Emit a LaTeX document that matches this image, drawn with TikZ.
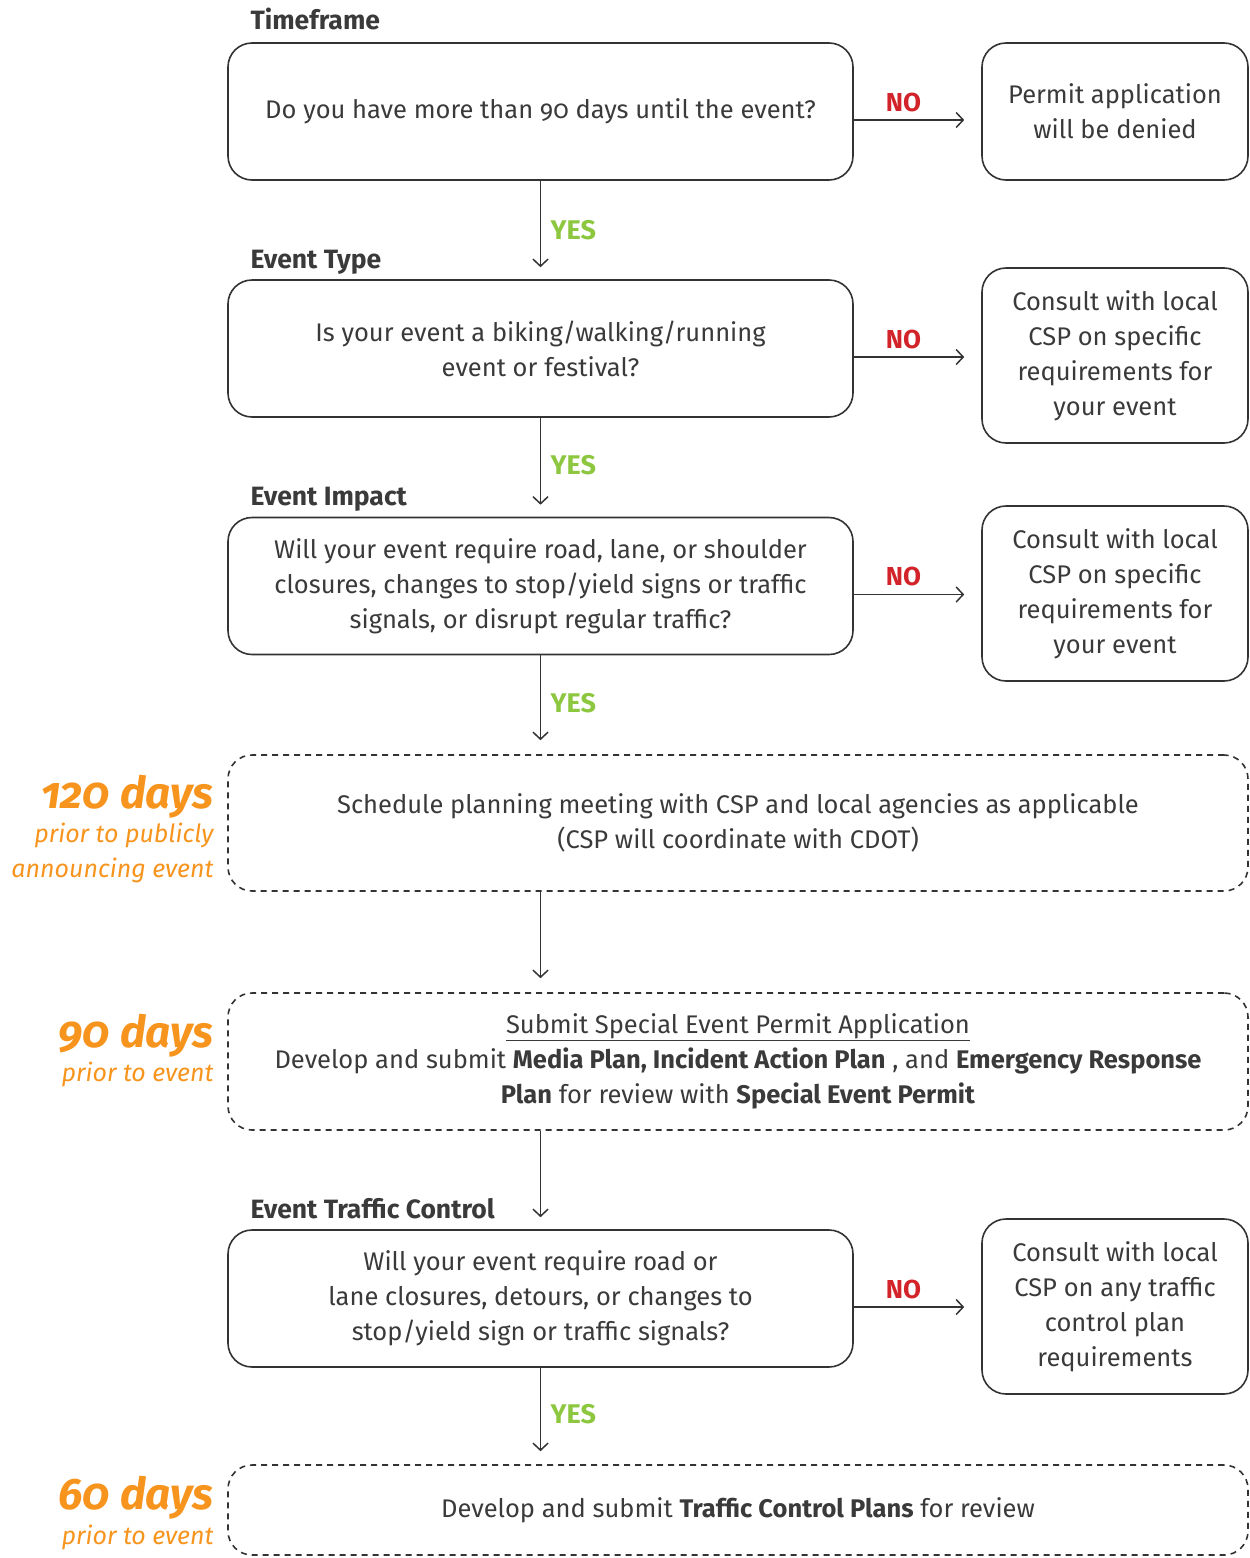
\documentclass[tikz,border=0pt]{standalone}
\usepackage{fontspec}
\setmainfont{Fira Sans}[Numbers=OldStyle]
\usetikzlibrary{arrows.meta,calc}
\definecolor{txt}{HTML}{3A3A3A}
\definecolor{ln}{HTML}{333333}
\definecolor{nored}{HTML}{D2232A}
\definecolor{yesgreen}{HTML}{8DC63F}
\definecolor{orng}{HTML}{F7941D}
\begin{document}
\begin{tikzpicture}[x=1pt,y=-1pt,
  every node/.style={text=txt,font=\fontsize{25.5}{35}\selectfont},
  mainbox/.style={draw=ln,line width=1.6pt,rounded corners=24pt,minimum width=625pt,minimum height=137pt,align=center,inner sep=0pt},
  sidebox/.style={draw=ln,line width=1.6pt,rounded corners=24pt,minimum width=266pt,align=center,inner sep=0pt},
  dashbox/.style={draw=ln,line width=1.6pt,dash pattern=on 6pt off 5pt,rounded corners=24pt,minimum width=1020pt,align=center,inner sep=0pt},
  arr/.style={draw=ln,line width=1.5pt,-{Straight Barb[length=7pt,width=15pt,line width=1.5pt]}},
  head/.style={anchor=base west,font=\fontsize{26.5}{30}\selectfont\bfseries,text=txt},
  nolab/.style={text=nored,font=\fontsize{26}{28}\selectfont\bfseries},
  yeslab/.style={text=yesgreen,font=\fontsize{27}{28}\selectfont\bfseries},
  bigday/.style={anchor=base east,text=orng,font=\fontsize{44}{46}\selectfont\bfseries\itshape},
  smallday/.style={anchor=base east,text=orng,font=\fontsize{25}{28}\selectfont\itshape},
]
\useasboundingbox (0,0) rectangle (1250,1558);

% headings
\node[head] (h1) at (247,29) {Timeframe};
\node[head] (h2) at (247,268) {Event Type};
\node[head] (h3) at (247,505) {Event Impact};
\node[head] (h6) at (247,1218) {Event Traffic Control};

% main boxes
\node[mainbox] (b1) at (540.5,111.5) {Do you have more than 90 days until the event?};
\node[sidebox,minimum height=137pt] (r1) at (1115,111.5) {Permit application\\will be denied};

\node[mainbox] (b2) at (540.5,348.5) {Is your event a biking/walking/running\\event or festival?};
\node[sidebox,minimum height=175pt] (r2) at (1115,355.5) {Consult with local\\CSP on specific\\requirements for\\your event};

\node[mainbox] (b3) at (540.5,586) {Will your event require road, lane, or shoulder\\closures, changes to stop/yield signs or traffic\\signals, or disrupt regular traffic?};
\node[sidebox,minimum height=175pt] (r3) at (1115,593.5) {Consult with local\\CSP on specific\\requirements for\\your event};

\node[dashbox,minimum height=136pt] (b4) at (738,823) {Schedule planning meeting with CSP and local agencies as applicable\\(CSP will coordinate with CDOT)};

\node[dashbox,minimum height=137pt] (b5) at (738,1061.5) {\underline{Submit Special Event Permit Application}\\Develop and submit \textbf{Media Plan, Incident Action Plan} , and \textbf{Emergency Response}\\\textbf{Plan} for review with \textbf{Special Event Permit}};

\node[mainbox] (b6) at (540.5,1298.5) {Will your event require road or\\lane closures, detours, or changes to\\stop/yield sign or traffic signals?};
\node[sidebox,minimum height=175pt] (r6) at (1115,1306.5) {Consult with local\\CSP on any traffic\\control plan\\requirements};

\node[dashbox,minimum height=90pt] (b7) at (738,1510) {Develop and submit \textbf{Traffic Control Plans} for review};

% day labels
\node[bigday] (d1) at (217,808) {120 days};
\node[smallday] (d1a) at (217,842) {prior to publicly};
\node[smallday] (d1b) at (217,877) {announcing event};
\node[bigday] (d2) at (217,1047) {90 days};
\node[smallday] (d2a) at (217,1081) {prior to event};
\node[bigday] (d3) at (217,1509) {60 days};
\node[smallday] (d3a) at (217,1544) {prior to event};

% NO arrows
\foreach \b/\r in {b1/r1,b2/r2,b3/r3,b6/r6}{
  \draw[arr,shorten >=17pt] ([yshift=-8.5pt]\b.east) -- ([yshift=-8.5pt]\b.east -| \r.west)
    node[nolab,midway,above=4pt,xshift=-14pt] {NO};
}

% YES / vertical arrows
\draw[arr,shorten >=12pt] (b1.south) -- (b2.north) node[yeslab,pos=0.5,right=6pt] {YES};
\draw[arr,shorten >=12pt] (b2.south) -- (b3.north) node[yeslab,pos=0.48,right=6pt] {YES};
\draw[arr,shorten >=14pt] (b3.south) -- (b3.south |- b4.north) node[yeslab,pos=0.48,right=6pt] {YES};
\draw[arr,shorten >=14pt] (b3.south |- b4.south) -- (b3.south |- b5.north);
\draw[arr,shorten >=12pt] (b3.south |- b5.south) -- (b6.north);
\draw[arr,shorten >=13pt] (b6.south) -- (b6.south |- b7.north) node[yeslab,pos=0.48,right=6pt] {YES};
\end{tikzpicture}
\end{document}
